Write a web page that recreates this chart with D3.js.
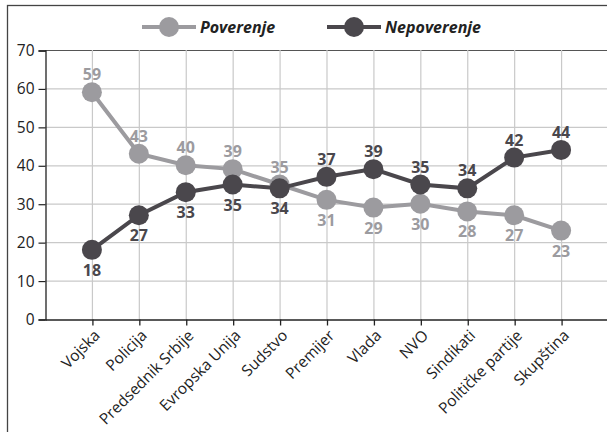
<!DOCTYPE html>
<html>
<head>
<meta charset="utf-8">
<script src="https://cdn.jsdelivr.net/npm/d3@7"></script>
<style>
  body { margin: 0; background: #fff; }
  svg { display: block; font-family: "Open Sans", "Noto Sans", sans-serif; }
</style>
</head>
<body>
<div id="chart"></div>
<script>
const categories = ['Vojska', 'Policija', 'Predsednik Srbije', 'Evropska Unija', 'Sudstvo', 'Premijer', 'Vlada', 'NVO', 'Sindikati', 'Političke partije', 'Skupština']
const poverenje = [59, 43, 40, 39, 35, 31, 29, 30, 28, 27, 23]
const nepoverenje = [18, 27, 33, 35, 34, 37, 39, 35, 34, 42, 44]
const yTicks = [0, 10, 20, 30, 40, 50, 60, 70]

const width = 607
const height = 432
const colors = { light: '#9c9b9f', dark: '#4a474c', grid: '#c9c9c9', axis: '#222' }

const svg = d3.select('#chart').append('svg')
  .attr('width', width)
  .attr('height', height)

// outer frame
svg.append('rect')
  .attr('x', 7.5).attr('y', 5.5)
  .attr('width', 620).attr('height', 440)
  .attr('fill', 'none')
  .attr('stroke', '#444')
  .attr('stroke-width', 1.3)

const x = d3.scalePoint().domain(categories).range([45, 608]).padding(1)
const y = d3.scaleLinear().domain([0, 70]).range([319, 50])

// grid
const grid = svg.append('g')
grid.selectAll('line.h').data(yTicks.filter(d => d > 0)).join('line')
  .attr('x1', 45).attr('x2', 608)
  .attr('y1', d => y(d) + 0.5).attr('y2', d => y(d) + 0.5)
  .attr('stroke', d => d === 70 ? '#555' : colors.grid)
  .attr('stroke-width', 1.2)
grid.selectAll('line.v').data(categories).join('line')
  .attr('x1', d => x(d) + 0.5).attr('x2', d => x(d) + 0.5)
  .attr('y1', y(70)).attr('y2', y(0))
  .attr('stroke', colors.grid)
  .attr('stroke-width', 1.2)

// axes
const yAxis = svg.append('g')
  .attr('transform', 'translate(45.5,0.5)')
  .call(d3.axisLeft(y).tickValues(yTicks).tickSize(7).tickPadding(4))
yAxis.select('.domain').attr('stroke', colors.axis).attr('stroke-width', 1.3)
yAxis.selectAll('.tick line').attr('stroke', colors.axis).attr('stroke-width', 1.2)
yAxis.selectAll('.tick text').attr('font-size', 15.5).attr('fill', colors.axis)
  .attr('font-family', '"Open Sans", sans-serif')

const xAxis = svg.append('g')
  .attr('transform', 'translate(0.5,319.5)')
  .call(d3.axisBottom(x).tickSize(6).tickSizeOuter(0))
xAxis.select('.domain').attr('stroke', colors.axis).attr('stroke-width', 1.3)
xAxis.selectAll('.tick line').attr('stroke', colors.axis).attr('stroke-width', 1.3)
xAxis.selectAll('.tick text')
  .attr('font-size', 15.5)
  .attr('fill', colors.axis)
  .attr('font-family', '"Open Sans", sans-serif')
  .attr('text-anchor', 'end')
  .attr('dy', null)
  .attr('y', 0)
  .attr('transform', 'translate(8,17) rotate(-45)')

// series
const series = [
  { name: 'Poverenje', values: poverenje, other: nepoverenje, color: colors.light },
  { name: 'Nepoverenje', values: nepoverenje, other: poverenje, color: colors.dark }
]

const line = d3.line()
  .x((d, i) => x(categories[i]))
  .y(d => y(d))

series.forEach(s => {
  const g = svg.append('g')
  g.append('path')
    .attr('d', line(s.values))
    .attr('fill', 'none')
    .attr('stroke', s.color)
    .attr('stroke-width', 4)
  g.selectAll('circle').data(s.values).join('circle')
    .attr('cx', (d, i) => x(categories[i]))
    .attr('cy', d => y(d))
    .attr('r', 10)
    .attr('fill', s.color)
  g.selectAll('text').data(s.values).join('text')
    .attr('x', (d, i) => x(categories[i]))
    .attr('y', (d, i) => d >= s.other[i] ? y(d) - 12 : y(d) + 26)
    .attr('text-anchor', 'middle')
    .attr('font-size', 16)
    .attr('font-weight', 'bold')
    .attr('fill', s.color)
    .text(d => d)
})

// legend
const legend = svg.append('g')
const legendItems = [
  { name: 'Poverenje', color: colors.light, x0: 142 },
  { name: 'Nepoverenje', color: colors.dark, x0: 327 }
]
legendItems.forEach(item => {
  legend.append('line')
    .attr('x1', item.x0).attr('x2', item.x0 + 54)
    .attr('y1', 27).attr('y2', 27)
    .attr('stroke', item.color)
    .attr('stroke-width', 4)
  legend.append('circle')
    .attr('cx', item.x0 + 27).attr('cy', 27).attr('r', 10)
    .attr('fill', item.color)
  legend.append('text')
    .attr('x', item.x0 + 58).attr('y', 33)
    .attr('font-size', 16)
    .attr('font-weight', 'bold')
    .attr('font-style', 'italic')
    .attr('fill', '#222')
    .text(item.name)
})
</script>
</body>
</html>
